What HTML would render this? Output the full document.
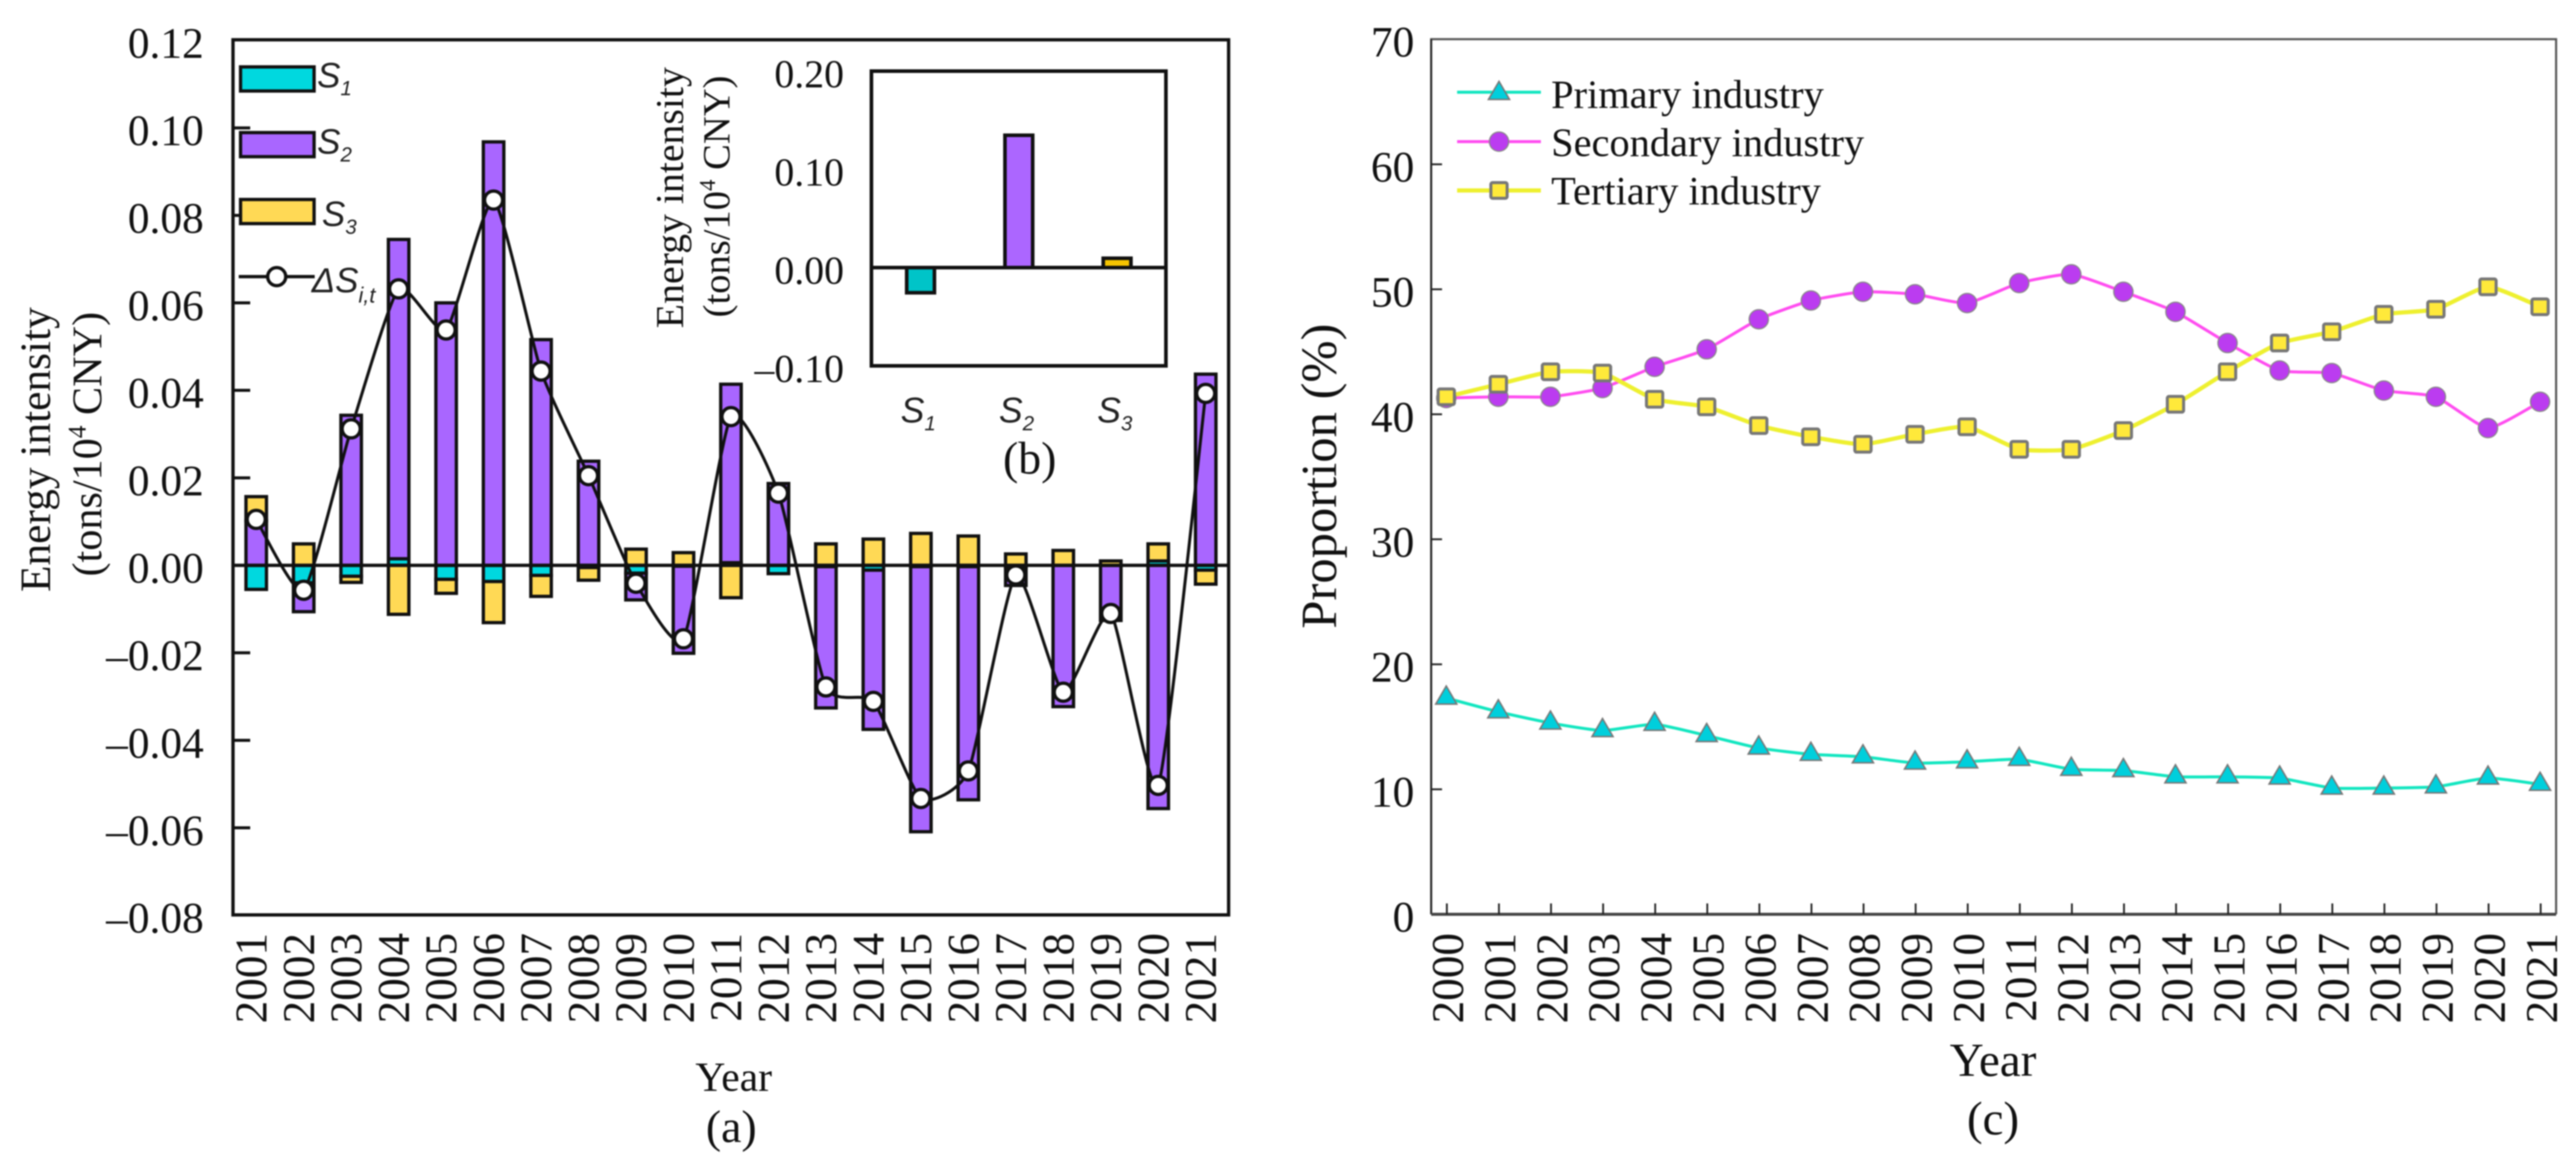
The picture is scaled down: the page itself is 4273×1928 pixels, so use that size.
<!DOCTYPE html>
<html lang="en">
<head>
<meta charset="utf-8">
<title>Energy intensity and industry proportion charts</title>
<style>
html,body{margin:0;padding:0;background:#fff;width:4273px;height:1928px;overflow:hidden}
svg{display:block;filter:blur(1px)}
.serif{font-family:"Liberation Serif",serif;fill:#111}
.sans{font-family:"Liberation Sans",sans-serif;font-style:italic;fill:#222}
</style>
</head>
<body>
<svg id="fig" xmlns="http://www.w3.org/2000/svg" width="4273" height="1928" viewBox="0 0 4273 1928">
  <rect width="4273" height="1928" fill="#fff"/>
  <g id="panelA"></g>
  <g id="panelB"></g>
  <g id="panelC"></g>

  <!-- Panel (a) titles -->
  <text class="serif" font-size="72" text-anchor="middle" transform="translate(83,746) rotate(-90)">Energy intensity</text>
  <text class="serif" font-size="70" text-anchor="middle" transform="translate(168,737) rotate(-90)">(tons/10<tspan font-size="42" dy="-26">4</tspan><tspan dy="26"> CNY)</tspan></text>
  <text class="serif" font-size="69" text-anchor="middle" x="1217" y="1810">Year</text>
  <text class="serif" font-size="76" text-anchor="middle" x="1213" y="1895">(a)</text>

  <!-- Panel (a) legend -->
  <g>
    <rect x="399" y="111" width="122" height="40" fill="#00d8df" stroke="#111" stroke-width="5.5"/>
    <text class="sans" x="526" y="145" font-size="58">S<tspan font-size="34" dy="13">1</tspan></text>
    <rect x="399" y="220" width="122" height="40" fill="#a966ff" stroke="#111" stroke-width="5.5"/>
    <text class="sans" x="526" y="255" font-size="58">S<tspan font-size="34" dy="13">2</tspan></text>
    <rect x="399" y="331" width="122" height="40" fill="#ffd955" stroke="#111" stroke-width="5.5"/>
    <text class="sans" x="534" y="375" font-size="58">S<tspan font-size="34" dy="13">3</tspan></text>
    <line x1="396" y1="459" x2="522" y2="459" stroke="#111" stroke-width="5.5"/>
    <circle cx="459" cy="459" r="15" fill="#fff" stroke="#111" stroke-width="5.5"/>
    <text class="sans" x="517" y="485" font-size="58">ΔS<tspan font-size="36" dy="17">i,t</tspan></text>
  </g>

  <!-- Panel (b) titles -->
  <text class="serif" font-size="66" text-anchor="middle" transform="translate(1133,328) rotate(-90)">Energy intensity</text>
  <text class="serif" font-size="64" text-anchor="middle" transform="translate(1210,326) rotate(-90)">(tons/10<tspan font-size="38" dy="-24">4</tspan><tspan dy="24"> CNY)</tspan></text>
  <text class="serif" font-size="76" text-anchor="middle" x="1708" y="786">(b)</text>

  <!-- Panel (c) titles and legend -->
  <text class="serif" font-size="84" text-anchor="middle" transform="translate(2216,790) rotate(-90)">Proportion (%)</text>
  <text class="serif" font-size="78" text-anchor="middle" x="3306" y="1785">Year</text>
  <text class="serif" font-size="78" text-anchor="middle" x="3306" y="1882">(c)</text>
  <g>
    <line x1="2417" y1="153" x2="2556" y2="153" stroke="#12e6c0" stroke-width="5"/>
    <polygon points="2486.5,135 2504,165 2469,165" fill="#00cfdc" stroke="#777" stroke-width="2.5"/>
    <text class="serif" x="2573" y="179" font-size="67">Primary industry</text>
    <line x1="2417" y1="235" x2="2556" y2="235" stroke="#ff4df0" stroke-width="5"/>
    <circle cx="2486.5" cy="235" r="16" fill="#bb3cf0" stroke="#888" stroke-width="2"/>
    <text class="serif" x="2573" y="259" font-size="67">Secondary industry</text>
    <line x1="2417" y1="316" x2="2556" y2="316" stroke="#eef030" stroke-width="7"/>
    <rect x="2473" y="303" width="27" height="26" rx="3" fill="#ffe93a" stroke="#777" stroke-width="5"/>
    <text class="serif" x="2573" y="339" font-size="67">Tertiary industry</text>
  </g>
</svg>

<script>
/* ---------- Panel (a) data ---------- */
const yearsA = ["2001","2002","2003","2004","2005","2006","2007","2008","2009","2010","2011","2012","2013","2014","2015","2016","2017","2018","2019","2020","2021"];
const s1Values = [-0.0055,-0.0040,-0.0025,0.0015,-0.0032,-0.0037,-0.0023,-0.0005,-0.0018,-0.0002,0.0006,-0.0019,-0.0003,-0.0011,-0.0003,-0.0003,-0.0005,0,0,0.0010,-0.0011];
const s2Values = [0.0102,-0.0066,0.0343,0.0730,0.0600,0.0968,0.0516,0.0238,-0.0061,-0.0199,0.0408,0.0187,-0.0323,-0.0364,-0.0606,-0.0533,-0.0041,-0.0323,-0.0126,-0.0556,0.0437];
const s3Values = [0.0055,0.0049,-0.0014,-0.0112,-0.0032,-0.0094,-0.0048,-0.0029,0.0037,0.0029,-0.0074,0,0.0049,0.0060,0.0073,0.0067,0.0026,0.0034,0.0010,0.0039,-0.0032];
const deltaValues = [0.0105,-0.0057,0.0312,0.0632,0.0538,0.0835,0.0444,0.0205,-0.0041,-0.0168,0.0340,0.0165,-0.0278,-0.0311,-0.0533,-0.0470,-0.0022,-0.0290,-0.0110,-0.0503,0.0393];
const tickValuesA = [0.12,0.10,0.08,0.06,0.04,0.02,0,-0.02,-0.04,-0.06,-0.08];
const tickLabelsA = ["0.12","0.10","0.08","0.06","0.04","0.02","0.00","–0.02","–0.04","–0.06","–0.08"];

/* ---------- Panel (b) data ---------- */
const categoriesB = ["S1","S2","S3"];
const valuesB = [-0.0256,0.1347,0.0095];
const tickValuesB = [0.20,0.10,0,-0.10];
const tickLabelsB = ["0.20","0.10","0.00","–0.10"];

/* ---------- Panel (c) data ---------- */
const yearsC = ["2000","2001","2002","2003","2004","2005","2006","2007","2008","2009","2010","2011","2012","2013","2014","2015","2016","2017","2018","2019","2020","2021"];
const primaryValues = [17.3,16.2,15.3,14.7,15.2,14.3,13.3,12.8,12.6,12.1,12.2,12.4,11.6,11.5,11.0,11.0,10.9,10.1,10.1,10.2,10.9,10.4];
const secondaryValues = [41.3,41.4,41.4,42.1,43.8,45.2,47.6,49.1,49.8,49.6,48.9,50.5,51.2,49.8,48.2,45.7,43.5,43.3,41.9,41.4,38.9,41.0];
const tertiaryValues = [41.4,42.4,43.4,43.3,41.2,40.6,39.1,38.2,37.6,38.4,39.0,37.2,37.2,38.7,40.8,43.4,45.7,46.6,48.0,48.4,50.2,48.6];
const tickValuesC = [70,60,50,40,30,20,10,0];
const tickLabelsC = ["70","60","50","40","30","20","10","0"];

/* ---------- Helpers ---------- */
const NS = "http://www.w3.org/2000/svg";
function mk(parent, tag, attrs, txt) {
  const n = document.createElementNS(NS, tag);
  for (const k in attrs) n.setAttribute(k, attrs[k]);
  if (txt !== undefined) n.textContent = txt;
  parent.appendChild(n);
  return n;
}
function smoothPath(pts, k) {
  let d = "M" + pts[0][0] + "," + pts[0][1];
  for (let i = 0; i < pts.length - 1; i++) {
    const p0 = pts[Math.max(i - 1, 0)], p1 = pts[i], p2 = pts[i + 1], p3 = pts[Math.min(i + 2, pts.length - 1)];
    const c1x = p1[0] + (p2[0] - p0[0]) / k, c1y = p1[1] + (p2[1] - p0[1]) / k;
    const c2x = p2[0] - (p3[0] - p1[0]) / k, c2y = p2[1] - (p3[1] - p1[1]) / k;
    d += "C" + c1x + "," + c1y + " " + c2x + "," + c2y + " " + p2[0] + "," + p2[1];
  }
  return d;
}

/* ---------- Panel (a) ---------- */
const gA = document.getElementById("panelA");
const xA = i => 425 + 78.75 * i;
const yA = v => 938 - v * 7258;
const barWA = 34;
const colorsA = ["#00d8df", "#a966ff", "#ffd955"];
const seriesA = [s1Values, s2Values, s3Values];
const seriesNamesA = ["s1", "s2", "s3"];

yearsA.forEach((yr, i) => {
  let pos = 0, neg = 0;
  seriesA.forEach((vals, s) => {
    const v = vals[i];
    if (v === 0) return;
    const from = v > 0 ? pos : neg;
    const to = from + v;
    if (v > 0) pos = to; else neg = to;
    const r = mk(gA, "rect", {
      x: xA(i) - barWA / 2, y: Math.min(yA(from), yA(to)),
      width: barWA, height: Math.abs(yA(to) - yA(from)),
      fill: colorsA[s], stroke: "#111", "stroke-width": 5.5
    });
    
    
  });
});

const zeroA = mk(gA, "line", { x1: 387, x2: 2038, y1: yA(0), y2: yA(0), stroke: "#111", "stroke-width": 5.5 });



const curveA = mk(gA, "path", { d: smoothPath(deltaValues.map((v, i) => [xA(i), yA(v)]), 11), fill: "none", stroke: "#111", "stroke-width": 5 });



deltaValues.forEach((v, i) => {
  const c = mk(gA, "circle", { cx: xA(i), cy: yA(v), r: 15, fill: "#fff", stroke: "#111", "stroke-width": 5.5 });
  
  
});

const frameA = mk(gA, "rect", { x: 386.5, y: 66, width: 1651.5, height: 1452, fill: "none", stroke: "#111", "stroke-width": 5.5 });



tickValuesA.forEach((v, i) => {
  if (i > 0 && i < tickValuesA.length - 1) {
    const t = mk(gA, "line", { x1: 387, x2: 415, y1: yA(v), y2: yA(v), stroke: "#111", "stroke-width": 5 });
    
    
  }
  const l = mk(gA, "text", { x: 338, y: yA(v) + 29, "text-anchor": "end", "font-size": 72, class: "serif" }, tickLabelsA[i]);
  
  
});

yearsA.forEach((yr, i) => {
  const l = mk(gA, "text", { transform: "translate(" + (xA(i) + 17) + ",1548) rotate(-90)", "text-anchor": "end", "font-size": 75, class: "serif" }, yr);
  
  
});

/* ---------- Panel (b) ---------- */
const gB = document.getElementById("panelB");
const xB = i => 1527 + 163 * i;
const yB = v => 444 - v * 1630;
const colorsB = ["#00c4c8", "#ac66ff", "#f5c400"];

valuesB.forEach((v, i) => {
  const r = mk(gB, "rect", {
    x: xB(i) - 23, y: Math.min(yB(v), yB(0)), width: 46, height: Math.abs(yB(v) - yB(0)),
    fill: colorsB[i], stroke: "#111", "stroke-width": 6
  });
  
  
});

const frameB = mk(gB, "rect", { x: 1445.5, y: 118, width: 488.5, height: 489, fill: "none", stroke: "#111", "stroke-width": 6 });



const zeroB = mk(gB, "line", { x1: 1445.5, x2: 1934, y1: yB(0), y2: yB(0), stroke: "#111", "stroke-width": 6 });



tickValuesB.forEach((v, i) => {
  const l = mk(gB, "text", { x: 1400, y: yB(v) + 27, "text-anchor": "end", "font-size": 66, class: "serif" }, tickLabelsB[i]);
  
  
});

categoriesB.forEach((c, i) => {
  const l = mk(gB, "text", { x: xB(i) - 33, y: 701, "font-size": 59, class: "sans" }, c.charAt(0));
  const sub = mk(l, "tspan", { "font-size": 34, dy: 13 }, c.charAt(1));
  
  
  
  
});

/* ---------- Panel (c) ---------- */
const gC = document.getElementById("panelC");
const xC = i => 2399 + 86.4 * i;
const yC = v => 1517 - v * 20.74;

const frameC = mk(gC, "path", { d: "M2374,1517V65H4240V1517", fill: "none", stroke: "#555", "stroke-width": 3.5 });



const leftAxisC = mk(gC, "line", { x1: 2374, x2: 2374, y1: 65, y2: 1517, stroke: "#222", "stroke-width": 3 });



const bottomAxisC = mk(gC, "line", { x1: 2374, x2: 4240, y1: 1517, y2: 1517, stroke: "#444", "stroke-width": 5 });



tickValuesC.forEach((v, i) => {
  if (v !== 70 && v !== 0) {
    const t = mk(gC, "line", { x1: 2374, x2: 2392, y1: yC(v), y2: yC(v), stroke: "#222", "stroke-width": 3 });
    
    
  }
  const l = mk(gC, "text", { x: 2346, y: yC(v) + 29, "text-anchor": "end", "font-size": 72, class: "serif" }, tickLabelsC[i]);
  
  
});

yearsC.forEach((yr, i) => {
  const t = mk(gC, "line", { x1: xC(i) + 1, x2: xC(i) + 1, y1: 1517, y2: 1499, stroke: "#222", "stroke-width": 3 });
  
  
  const l = mk(gC, "text", { transform: "translate(" + (xC(i) + 28) + ",1548) rotate(-90)", "text-anchor": "end", "font-size": 75, class: "serif" }, yr);
  
  
});

const lineP = mk(gC, "path", { d: smoothPath(primaryValues.map((v, i) => [xC(i), yC(v)]), 12), fill: "none", stroke: "#12e6c0", "stroke-width": 5 });



const lineS = mk(gC, "path", { d: smoothPath(secondaryValues.map((v, i) => [xC(i), yC(v)]), 12), fill: "none", stroke: "#ff4df0", "stroke-width": 5 });



const lineT = mk(gC, "path", { d: smoothPath(tertiaryValues.map((v, i) => [xC(i), yC(v)]), 12), fill: "none", stroke: "#eef030", "stroke-width": 7 });



primaryValues.forEach((v, i) => {
  const x = xC(i), y = yC(v);
  const p = mk(gC, "polygon", { points: (x) + "," + (y - 20) + " " + (x + 17.5) + "," + (y + 10) + " " + (x - 17.5) + "," + (y + 10), fill: "#00cfdc", stroke: "#777", "stroke-width": 2.5 });
  
  
});

secondaryValues.forEach((v, i) => {
  const c = mk(gC, "circle", { cx: xC(i), cy: yC(v), r: 16, fill: "#bb3cf0", stroke: "#888", "stroke-width": 2 });
  
  
});

tertiaryValues.forEach((v, i) => {
  const r = mk(gC, "rect", { x: xC(i) - 13.5, y: yC(v) - 13, width: 27, height: 26, rx: 3, fill: "#ffe93a", stroke: "#777", "stroke-width": 5 });
  
  
});
</script>
</body>
</html>
